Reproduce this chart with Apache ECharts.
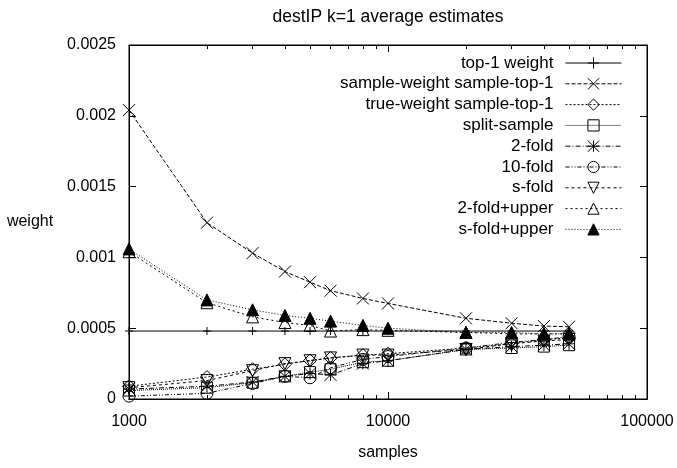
<!DOCTYPE html>
<html><head><meta charset="utf-8">
<script src="https://cdn.jsdelivr.net/npm/echarts@6/dist/echarts.min.js"></script>
<style>html,body{margin:0;padding:0;background:#fff}#c{width:677px;height:468px}</style>
</head><body><div id="c"></div>
<script>
const samples = [1000,2000,3000,4000,5000,6000,8000,10000,20000,30000,40000,50000];
const top1Weight = [0.00048,0.00048,0.00048,0.00048,0.00048,0.00048,0.00048,0.00048,0.00048,0.00048,0.00048,0.00048];
const sampleWeightTop1 = [0.00204,0.001245,0.00103,0.0009,0.000825,0.000765,0.00071,0.000675,0.00057,0.000535,0.000515,0.00051];
const trueWeightTop1 = [0.00009,0.000155,0.00021,0.000245,0.000272,0.00029,0.00031,0.00032,0.00036,0.00039,0.00042,0.00043];
const splitSample = [0.00006,0.00008,0.000115,0.00016,0.00019,0.00021,0.00026,0.00027,0.00035,0.00036,0.00037,0.00038];
const twoFold = [0.00007,0.00009,0.00012,0.00016,0.00018,0.00017,0.00025,0.00027,0.00035,0.00037,0.00038,0.00039];
const tenFold = [0.00002,0.00004,0.00011,0.00016,0.00015,0.00022,0.00028,0.0003,0.00036,0.0004,0.00042,0.00044];
const sFold = [0.00008,0.00013,0.0002,0.00025,0.00027,0.00029,0.00031,0.00031,0.00035,0.00039,0.00041,0.00042];
const twoFoldUpper = [0.00104,0.00068,0.00058,0.00054,0.00052,0.00048,0.00049,0.000485,0.00047,0.00046,0.00046,0.00046];
const sFoldUpper = [0.00106,0.0007,0.00063,0.00059,0.00057,0.00055,0.00052,0.0005,0.00047,0.00047,0.00046,0.00046];
const majorX = [1000,10000,100000];
const minorX = [2000,3000,4000,5000,6000,7000,8000,9000,20000,30000,40000,50000,60000,70000,80000,90000];

const FONT = 'Liberation Sans';
const pair = arr => samples.map((x,i)=>[x,arr[i]]);
const hollow = {color:'rgba(0,0,0,0)', borderColor:'#000', borderWidth:1};

const defs = [
  {name:'top-1 weight', data:top1Weight, dash:'solid', symbol:'path://M5,0L5,10M0,5L10,5', size:8, item:hollow},
  {name:'sample-weight sample-top-1', data:sampleWeightTop1, dash:[4,2], symbol:'path://M0,0L10,10M10,0L0,10', size:12, item:hollow},
  {name:'true-weight sample-top-1', data:trueWeightTop1, dash:[2,2], symbol:'path://M5,0L10,5L5,10L0,5Z', size:13, item:hollow},
  {name:'split-sample', data:splitSample, dash:[1,1], symbol:'rect', size:11, item:hollow},
  {name:'2-fold', data:twoFold, dash:[5,2,1,2], symbol:'path://M0,0L10,10M10,0L0,10M5,0L5,10M0,5L10,5', size:12, item:hollow},
  {name:'10-fold', data:tenFold, dash:[4,2,1,2,1,2], symbol:'circle', size:12, item:hollow},
  {name:'s-fold', data:sFold, dash:[3,3], symbol:'path://M0,0L10,0L5,9Z', size:12, item:hollow},
  {name:'2-fold+upper', data:twoFoldUpper, dash:[2,3], symbol:'triangle', size:12, item:hollow},
  {name:'s-fold+upper', data:sFoldUpper, dash:[1,2], symbol:'triangle', size:12, item:{color:'#000', borderColor:'#000', borderWidth:1}}
];

const series = defs.map(d=>({
  name:d.name, type:'line', xAxisIndex:0, yAxisIndex:0,
  data:pair(d.data), symbol:d.symbol, symbolSize:d.size, showSymbol:true,
  lineStyle:{color:'#000', width:1, type:d.dash},
  itemStyle:d.item, color:'#000', animation:false, silent:true
}));

const minorTick = {show:true, inside:true, length:4, lineStyle:{color:'#000'}, customValues:minorX};
const majorTick = {show:true, inside:true, length:7, lineStyle:{color:'#000'}, customValues:majorX};
const xBase = {type:'log', logBase:10, min:1000, max:100000, splitLine:{show:false},
  axisLine:{show:true, lineStyle:{color:'#000', width:1}}};

const chart = echarts.init(document.getElementById('c'), null, {renderer:'canvas'});
chart.setOption({
  animation:false,
  backgroundColor:'#fff',
  textStyle:{fontFamily:FONT},
  title:{text:'destIP k=1 average estimates', left:383, top:3, textAlign:'center',
    textStyle:{fontFamily:FONT, fontSize:17.5, fontWeight:'normal', color:'#000'}},
  grid:{left:129, right:30, top:45, bottom:69, show:true, borderColor:'#000', borderWidth:1, backgroundColor:'transparent'},
  legend:{orient:'vertical', right:50, top:49.5, align:'right', itemWidth:56, itemHeight:14, itemGap:3.8,
    lineStyle:{width:1}, itemStyle:{borderWidth:1},
    textStyle:{fontFamily:FONT, fontSize:17, color:'#000', padding:[0,7,0,0]}, selectedMode:false,
    data:defs.map(d=>d.name)},
  xAxis:[
    Object.assign({}, xBase, {position:'bottom', name:'samples', nameLocation:'middle', nameGap:46,
      nameTextStyle:{fontFamily:FONT, fontSize:16, color:'#000'},
      axisTick:majorTick, axisLabel:{show:true, margin:15, fontFamily:FONT, fontSize:16, color:'#000', customValues:majorX, formatter:v=>String(v)}}),
    Object.assign({}, xBase, {position:'bottom', axisTick:minorTick, axisLabel:{show:false}}),
    Object.assign({}, xBase, {position:'top', axisTick:majorTick, axisLabel:{show:false}}),
    Object.assign({}, xBase, {position:'top', axisTick:minorTick, axisLabel:{show:false}})
  ],
  yAxis:[
    {type:'value', min:0, max:0.0025, interval:0.0005, position:'left', splitLine:{show:false},
      name:'weight', nameLocation:'middle', nameRotate:0, nameGap:99,
      nameTextStyle:{fontFamily:FONT, fontSize:16, color:'#000', align:'center'},
      axisLine:{show:true, lineStyle:{color:'#000'}},
      axisTick:{show:true, inside:true, length:7, lineStyle:{color:'#000'}},
      axisLabel:{margin:13, fontFamily:FONT, fontSize:16, color:'#000', formatter:v=>String(v)}},
    {type:'value', min:0, max:0.0025, interval:0.0005, position:'right', splitLine:{show:false},
      axisLine:{show:true, lineStyle:{color:'#000'}},
      axisTick:{show:true, inside:true, length:7, lineStyle:{color:'#000'}},
      axisLabel:{show:false}}
  ],
  series:series
});
</script></body></html>
